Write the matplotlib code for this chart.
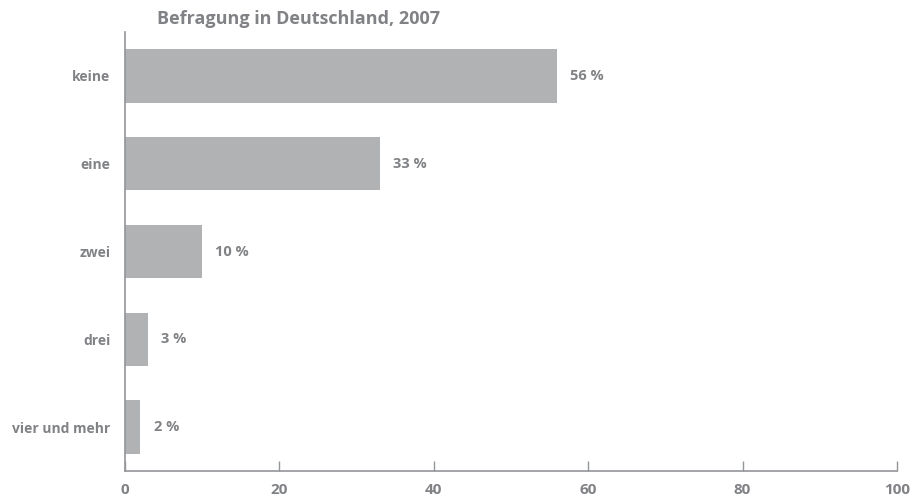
import matplotlib.pyplot as plt

plt.rcParams['font.family'] = ['Open Sans', 'DejaVu Sans']

# Number of children, share of respondents in percent
categories = ['keine', 'eine', 'zwei', 'drei', 'vier und mehr']
shares = [56, 33, 10, 3, 2]
x_ticks = [0, 20, 40, 60, 80, 100]

text_grey = '#808285'
bar_grey = '#b1b2b4'
axis_grey = '#939598'

fig = plt.figure(figsize=(9.11, 5), dpi=100)
ax = fig.add_axes([125 / 911, 1 - 471 / 500, 772 / 911, 439 / 500])

positions = list(range(len(categories)))
ax.barh(positions, shares, height=0.61, color=bar_grey)

for pos, value in zip(positions, shares):
    ax.text(value + 1.7, pos, f'{value} %', va='center', ha='left',
            fontsize=10.5, fontweight='bold', color=text_grey)

ax.set_xlim(0, 100)
ax.set_ylim(4.5, -0.5)
ax.set_xticks(x_ticks)
ax.set_xticklabels([str(t) for t in x_ticks])
ax.set_yticks(positions)
ax.set_yticklabels(categories)

ax.tick_params(axis='x', direction='in', length=7.5, width=1, color=axis_grey,
               pad=9, labelsize=11, labelcolor=text_grey)
ax.tick_params(axis='y', length=0, pad=10.5, labelsize=10, labelcolor=text_grey)
for label in ax.get_xticklabels() + ax.get_yticklabels():
    label.set_fontweight('bold')

ax.spines[['right', 'top']].set_visible(False)
for side in ['left', 'bottom']:
    ax.spines[side].set_color(axis_grey)
    ax.spines[side].set_linewidth(1.2)

fig.text(157 / 911, 1 - 19 / 500, 'Befragung in Deutschland, 2007', ha='left', va='center',
         fontsize=13, fontweight='bold', color=text_grey)

fig.savefig('out.png', dpi=100)
